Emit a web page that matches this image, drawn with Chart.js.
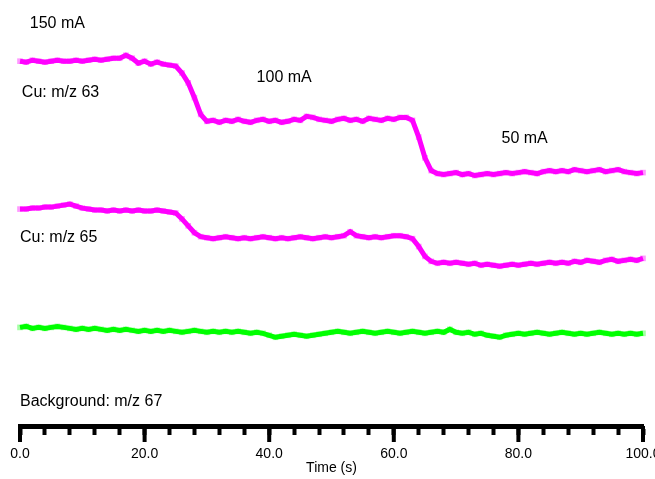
<!DOCTYPE html>
<html>
<head>
<meta charset="utf-8">
<script src="https://cdn.jsdelivr.net/npm/chart.js@4.4.1/dist/chart.umd.min.js"></script>
<style>
  html, body { margin: 0; padding: 0; background: #fff; }
  #wrap { width: 655px; height: 479px; }
</style>
</head>
<body>
<div id="wrap"><canvas id="myChart"></canvas></div>
<script>
// time axis, one reading per second
var times = [];
for (var i = 0; i <= 100; i++) times.push(i);

// traces are stacked with an offset, arbitrary intensity units
var cu63 = [
  370,369,371,370,369,370,371,370,370,371,
  370,371,372,371,372,373,373,376,373,368,
  370,367,369,367,366,365,358,348,333,316,
  309,310,308,310,309,311,309,308,310,311,
  309,310,308,309,311,310,314,313,311,310,
  309,311,312,310,311,309,312,311,310,312,
  311,313,313,310,293,272,259,
  256,255,256,257,255,256,254,255,256,255,
  256,257,256,257,258,257,256,258,259,258,
  259,258,260,259,258,259,260,258,259,260,
  258,257,256,257
];
var cu65 = [
  220,220,221,221,222,222,223,224,225,223,
  221,220,219,219,218,219,218,219,218,219,
  218,218,219,218,217,216,210,203,196,192,
  191,190,191,192,191,190,191,190,191,192,
  191,190,191,190,191,192,191,190,191,192,
  191,192,193,197,193,192,191,192,191,192,
  193,193,192,190,182,172,167,165,166,165,
  166,165,164,165,163,164,163,162,163,164,
  163,164,165,164,165,166,165,166,165,167,
  166,168,167,166,168,169,167,168,169,168,170
];
var bg67 = [
  100,101,99,100,99,100,101,100,99,98,
  99,98,99,98,97,98,97,98,97,96,
  97,96,97,96,97,96,95,96,97,96,
  95,96,95,96,95,96,95,94,95,94,
  92,90,91,92,93,92,91,92,93,94,
  95,96,95,94,95,96,95,94,95,96,
  95,94,95,96,95,94,95,96,95,98,
  95,94,95,93,94,92,91,90,92,93,
  94,93,94,95,94,93,94,95,94,93,
  94,93,94,95,94,93,94,93,94,93,94
];

// labels: [text, time, intensity, align]
var notes = [
  ['150 mA', 6, 408, 'center'],
  ['100 mA', 42.4, 353, 'center'],
  ['50 mA', 81, 291, 'center'],
  ['Cu: m/z 63', 0.3, 338, 'left'],
  ['Cu: m/z 65', 0, 191, 'left'],
  ['Background: m/z 67', 0, 25, 'left']
];
var majorTicks = [0, 20, 40, 60, 80, 100];

function pts(arr) {
  return arr.map(function (v, i) { return { x: times[i], y: v }; });
}

var notesPlugin = {
  id: 'notes',
  afterDraw: function (chart) {
    var ctx = chart.ctx, x = chart.scales.x, y = chart.scales.y;
    var bottom = chart.chartArea.bottom;
    ctx.save();
    // longer major ticks
    ctx.strokeStyle = '#000';
    ctx.lineWidth = 4;
    majorTicks.forEach(function (t) {
      var px = x.getPixelForValue(t);
      ctx.beginPath();
      ctx.moveTo(px, bottom);
      ctx.lineTo(px, bottom + 16);
      ctx.stroke();
    });
    // annotations
    ctx.fillStyle = '#000';
    ctx.font = '16px "Liberation Sans", Arial, sans-serif';
    ctx.textBaseline = 'middle';
    notes.forEach(function (n) {
      ctx.textAlign = n[3];
      ctx.fillText(n[0], x.getPixelForValue(n[1]), y.getPixelForValue(n[2]));
    });
    ctx.restore();
  }
};

function trace(arr, line, dot) {
  return {
    data: pts(arr),
    borderColor: line,
    borderWidth: 5,
    backgroundColor: dot,
    pointStyle: 'rect',
    pointRadius: 4,
    pointBorderWidth: 0,
    tension: 0,
    clip: false
  };
}

var axisFont = { family: '"Liberation Sans", Arial, sans-serif', size: 14, lineHeight: 1 };

new Chart(document.getElementById('myChart'), {
  type: 'line',
  data: {
    datasets: [
      trace(cu63, '#ff00ff', 'rgba(255,0,255,0.4)'),
      trace(cu65, '#ff00ff', 'rgba(255,0,255,0.4)'),
      trace(bg67, '#00ff00', 'rgba(0,255,0,0.35)')
    ]
  },
  options: {
    responsive: true,
    maintainAspectRatio: false,
    animation: false,
    layout: { padding: { left: 20, right: 12, top: 0, bottom: 0 } },
    plugins: { legend: { display: false }, tooltip: { enabled: false } },
    scales: {
      x: {
        type: 'linear',
        min: 0,
        max: 100,
        afterFit: function (scale) { scale.paddingLeft = 0; scale.paddingRight = 0; },
        grid: { drawOnChartArea: false, tickLength: 9, tickWidth: 4, tickColor: '#000' },
        border: { display: true, color: '#000', width: 5 },
        ticks: {
          stepSize: 4,
          autoSkip: false,
          maxRotation: 0,
          padding: 12,
          color: '#000',
          font: axisFont,
          callback: function (v) { return v % 20 === 0 ? v.toFixed(1) : ''; }
        },
        title: {
          display: true,
          text: 'Time (s)',
          color: '#000',
          padding: { top: -12, bottom: 4 },
          font: axisFont
        }
      },
      y: { display: false, min: 0, max: 428 }
    }
  },
  plugins: [notesPlugin]
});
</script>
</body>
</html>
